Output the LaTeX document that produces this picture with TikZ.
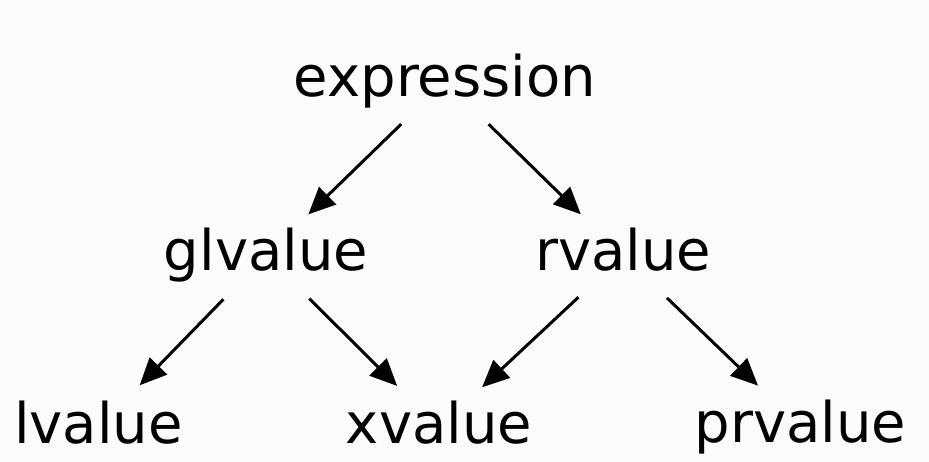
\documentclass[tikz,border=0pt]{standalone}
\usepackage{fontspec}
\setmainfont{DejaVu Sans}
\usetikzlibrary{arrows.meta}
\definecolor{bgc}{RGB}{251,251,251}
\begin{document}
\begin{tikzpicture}[x=1pt,y=-1pt,
  term/.style={inner sep=0pt, text height=42.5pt, text depth=11.6pt, anchor=base,
    font=\fontsize{56}{60}\selectfont},
  conn/.style={line width=3pt, -{Triangle[length=27pt,width=24pt]},
    shorten <=61pt, shorten >=59pt}]
\fill[bgc] (0,0) rectangle (929,462);
\useasboundingbox (0,0) rectangle (929,462);
\node[term] (expr) at (445,97) {expression};
\node[term] (glv) at (266,271) {glvalue};
\node[term] (rv) at (623,271) {rvalue};
\node[term] (lv) at (98.5,443) {lvalue};
\node[term] (xv) at (439,443) {xvalue};
\node[term] (pv) at (800.5,442) {prvalue};
\draw[conn] (expr.center) -- (glv.center);
\draw[conn] (expr.center) -- (rv.center);
\draw[conn] (glv.center) -- (lv.center);
\draw[conn] (glv.center) -- (xv.center);
\draw[conn] (rv.center) -- (xv.center);
\draw[conn] (rv.center) -- (pv.center);
\end{tikzpicture}
\end{document}
